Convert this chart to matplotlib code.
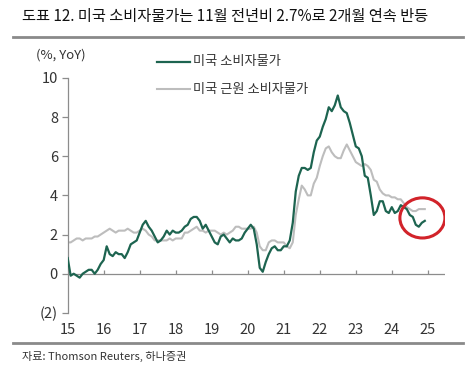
import matplotlib.pyplot as plt
from matplotlib.patches import Ellipse
from matplotlib.lines import Line2D
import numpy as np

plt.rcParams['font.family'] = ['Noto Sans CJK KR', 'DejaVu Sans']
plt.rcParams['font.weight'] = 'light'

# 미국 CPI YoY (%), 2014.12 ~ 2024.11
HEADLINE = [
    0.8,
    -0.1, 0.0, -0.1, -0.2, 0.0, 0.1, 0.2, 0.2, 0.0, 0.2, 0.5, 0.7,
    1.4, 1.0, 0.9, 1.1, 1.0, 1.0, 0.8, 1.1, 1.5, 1.6, 1.7, 2.1,
    2.5, 2.7, 2.4, 2.2, 1.9, 1.6, 1.7, 1.9, 2.2, 2.0, 2.2, 2.1,
    2.1, 2.2, 2.4, 2.5, 2.8, 2.9, 2.9, 2.7, 2.3, 2.5, 2.2, 1.9,
    1.6, 1.5, 1.9, 2.0, 1.8, 1.6, 1.8, 1.7, 1.7, 1.8, 2.1, 2.3,
    2.5, 2.3, 1.5, 0.3, 0.1, 0.6, 1.0, 1.3, 1.4, 1.2, 1.2, 1.4,
    1.4, 1.7, 2.6, 4.2, 5.0, 5.4, 5.4, 5.3, 5.4, 6.2, 6.8, 7.0,
    7.5, 7.9, 8.5, 8.3, 8.6, 9.1, 8.5, 8.3, 8.2, 7.7, 7.1, 6.5,
    6.4, 6.0, 5.0, 4.9, 4.0, 3.0, 3.2, 3.7, 3.7, 3.2, 3.1, 3.4,
    3.1, 3.2, 3.5, 3.4, 3.3, 3.0, 2.9, 2.5, 2.4, 2.6, 2.7,
]

# 미국 근원 CPI YoY (%)
CORE = [
    1.6,
    1.6, 1.7, 1.8, 1.8, 1.7, 1.8, 1.8, 1.8, 1.9, 1.9, 2.0, 2.1,
    2.2, 2.3, 2.2, 2.1, 2.2, 2.2, 2.2, 2.3, 2.2, 2.1, 2.1, 2.2,
    2.3, 2.2, 2.0, 1.9, 1.7, 1.7, 1.7, 1.7, 1.7, 1.8, 1.7, 1.8,
    1.8, 1.8, 2.1, 2.1, 2.2, 2.3, 2.4, 2.2, 2.2, 2.1, 2.2, 2.2,
    2.2, 2.1, 2.0, 2.1, 2.0, 2.1, 2.2, 2.4, 2.4, 2.3, 2.3, 2.3,
    2.3, 2.4, 2.1, 1.4, 1.2, 1.2, 1.6, 1.7, 1.7, 1.6, 1.6, 1.6,
    1.4, 1.3, 1.6, 3.0, 3.8, 4.5, 4.3, 4.0, 4.0, 4.6, 4.9, 5.5,
    6.0, 6.4, 6.5, 6.2, 6.0, 5.9, 5.9, 6.3, 6.6, 6.3, 6.0, 5.7,
    5.6, 5.5, 5.6, 5.5, 5.3, 4.8, 4.7, 4.3, 4.1, 4.0, 4.0, 3.9,
    3.9, 3.8, 3.8, 3.6, 3.4, 3.3, 3.2, 3.2, 3.3, 3.3, 3.3,
]

YEARS = [15, 16, 17, 18, 19, 20, 21, 22, 23, 24, 25]
Y_TICKS = [-2, 0, 2, 4, 6, 8, 10]

GREEN = '#1d6450'
GRAY = '#bdbdbd'
AXIS = '#8c8c8c'
TXT = '#333333'

x = 15 + np.arange(len(HEADLINE)) / 12

fig = plt.figure(figsize=(4.70, 3.69), dpi=100)
ax = fig.add_axes([0.144, 0.152, 0.803, 0.637])

ax.plot(x, CORE, color=GRAY, lw=1.5, zorder=2)
ax.plot(x, HEADLINE, color=GREEN, lw=1.6, zorder=3)

ax.set_xlim(15, 25.48)
ax.set_ylim(-2, 10)

# zero line with small tick marks
ax.axhline(0, color=AXIS, lw=0.9, zorder=1)
ax.vlines(YEARS[1:], 0, 0.17, color=AXIS, lw=0.9, zorder=1)

for s in ['top', 'right', 'bottom']:
    ax.spines[s].set_visible(False)
ax.spines['left'].set_color(AXIS)
ax.spines['left'].set_linewidth(0.9)

ax.set_xticks(YEARS)
ax.set_xticklabels([str(y) for y in YEARS])
ax.tick_params(axis='x', length=0, pad=7, labelsize=10.5, labelcolor=TXT)
ax.set_yticks(Y_TICKS)
ax.set_yticklabels([f'({-v})' if v < 0 else str(v) for v in Y_TICKS])
ax.tick_params(axis='y', length=4, color=AXIS, width=0.9, pad=3,
               labelsize=10.5, labelcolor=TXT)

# 빨간 원
ell = Ellipse((24.85, 2.85), width=1.25, height=2.05, fill=False,
              edgecolor='#d2232a', lw=2.2, zorder=4)
ax.add_patch(ell)

# legend
fig.add_artist(Line2D([157 / 470, 190 / 470], [1 - 62 / 369, 1 - 62 / 369],
                      color=GREEN, lw=1.6))
fig.add_artist(Line2D([157 / 470, 190 / 470], [1 - 89 / 369, 1 - 89 / 369],
                      color=GRAY, lw=1.5))
fig.text(193 / 470, 1 - 62 / 369, '미국 소비자물가', fontsize=9.5,
         color=TXT, va='center')
fig.text(193 / 470, 1 - 89 / 369, '미국 근원 소비자물가', fontsize=9.5,
         color=TXT, va='center')

fig.text(36 / 470, 1 - 55 / 369, '(%, YoY)', fontsize=9.5, color=TXT,
         va='center')

# title & source
fig.text(22 / 470, 1 - 16 / 369,
         '도표 12. 미국 소비자물가는 11월 전년비 2.7%로 2개월 연속 반등',
         fontsize=11, color='#111111', va='center')
fig.add_artist(Line2D([13 / 470, 463 / 470], [1 - 37 / 369, 1 - 37 / 369],
                      color='#8a8a8a', lw=2))
fig.add_artist(Line2D([13 / 470, 463 / 470], [1 - 343 / 369, 1 - 343 / 369],
                      color='#8a8a8a', lw=2))
fig.text(22 / 470, 1 - 356 / 369, '자료: Thomson Reuters, 하나증권',
         fontsize=8, color=TXT, va='center')

fig.savefig('out.png', dpi=100)
